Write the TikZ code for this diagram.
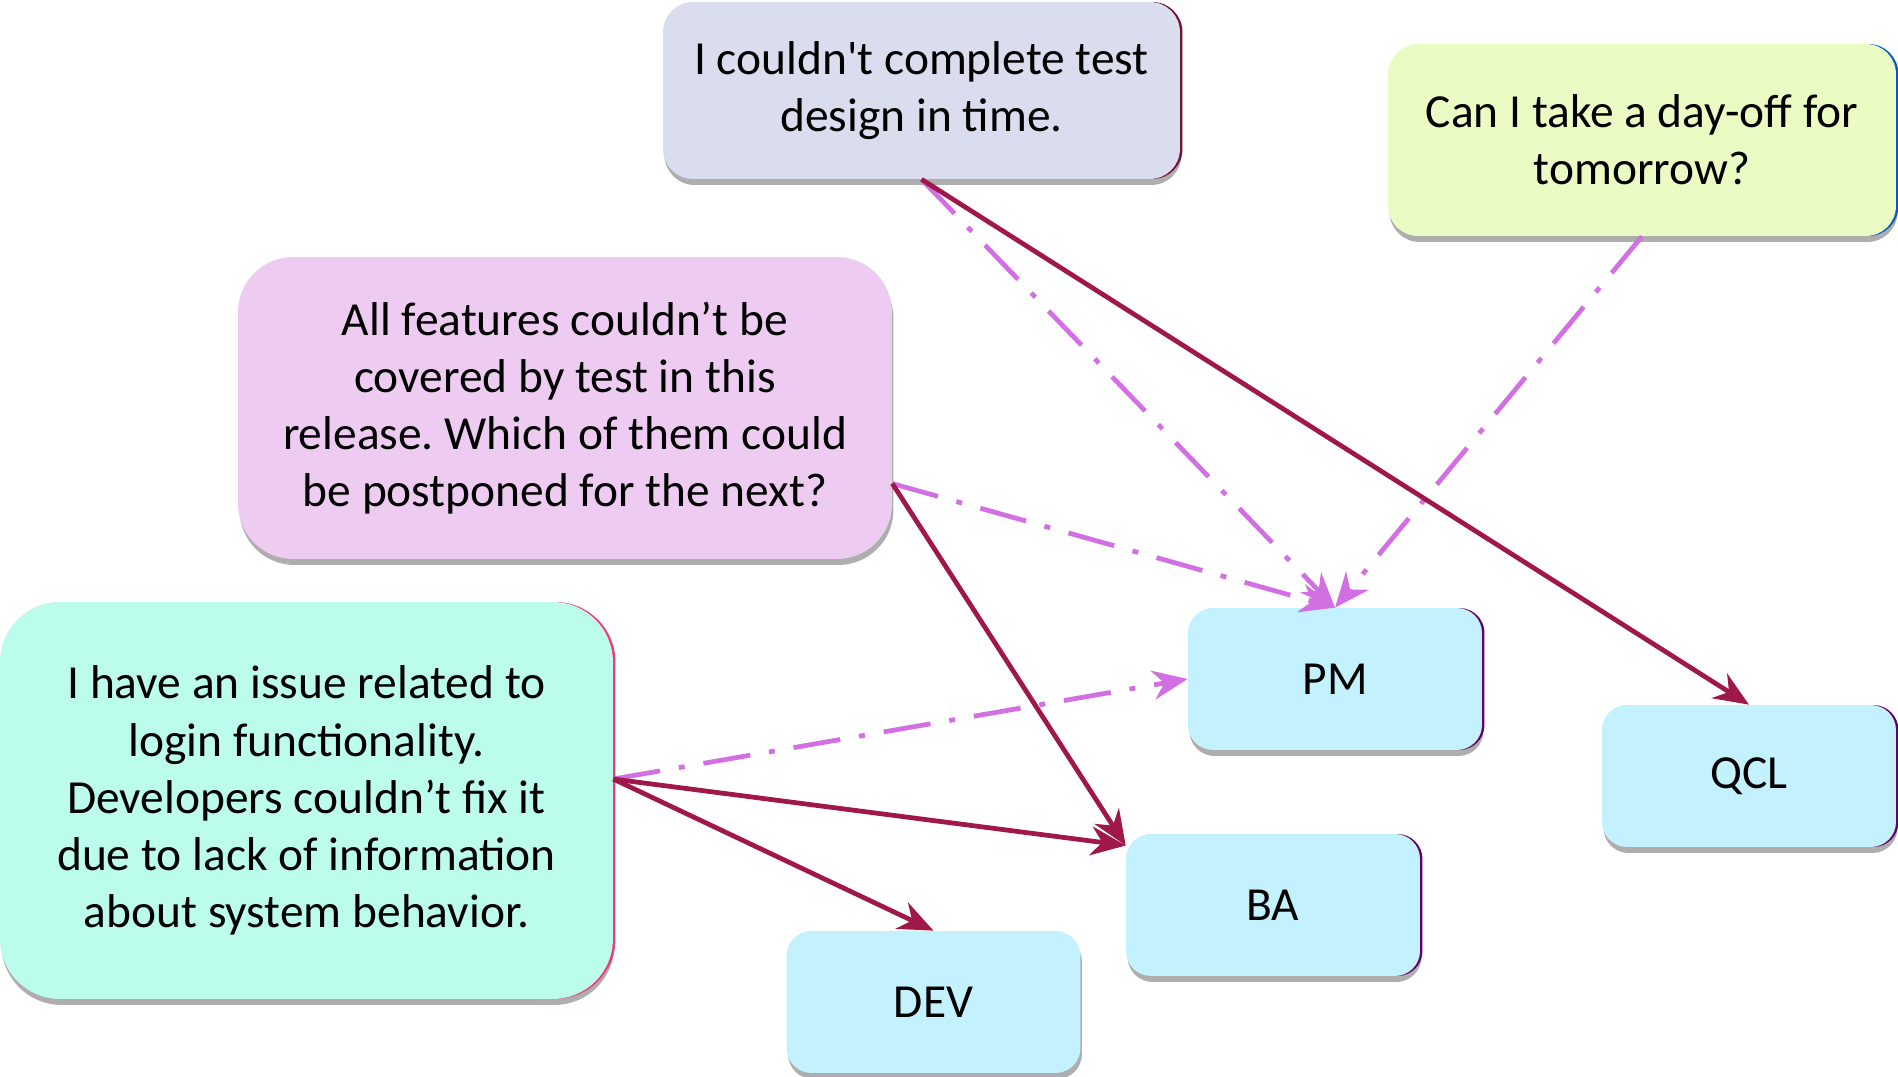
\documentclass[tikz,border=0pt]{standalone}
\usepackage{fontspec}
\setmainfont{Carlito}
\usepackage{xcolor}
\usepackage{tikz}
\usetikzlibrary{arrows.meta}
\usetikzlibrary{shadows}
\frenchspacing

\definecolor{lateblue}{HTML}{DADDEE}
\definecolor{dayoffgreen}{HTML}{EAFCC4}
\definecolor{scopepink}{HTML}{EECCF2}
\definecolor{issueteal}{HTML}{BBFCEC}
\definecolor{roleblue}{HTML}{C3F1FD}
\definecolor{asksviolet}{HTML}{D26FE2}
\definecolor{sendsred}{HTML}{A0174A}

\tikzset{
  bubble/.style={rounded corners=#1, align=center, inner sep=0pt,
    font=\fontsize{27}{32.5}\selectfont,
    drop shadow={shadow xshift=0.03cm, shadow yshift=-0.12cm, fill=black!70, opacity=0.45}},
  rim/.style={general shadow={shadow xshift=0.05cm, shadow yshift=0cm, fill=#1}},
  role/.style={bubble=0.5cm, fill=roleblue, minimum width=5.88cm, minimum height=2.84cm},
  sends/.style={-{Stealth[length=0.7cm,width=0.58cm]}, line width=0.095cm, draw=sendsred},
  asks/.style={-{Stealth[length=0.7cm,width=0.58cm]}, line width=0.095cm, draw=asksviolet,
    dash pattern=on 0.95cm off 0.38cm on 0.12cm off 0.38cm},
}

\begin{document}
\begin{tikzpicture}[x=0.02cm, y=-0.02cm]
    \useasboundingbox (0,0) rectangle (1898,1077);

    % Questions
    \node[bubble=0.6cm, fill=lateblue, rim=sendsred!70!black, minimum width=10.34cm, minimum height=3.54cm]
        (late) at (921.5,90.5) {I couldn\textquotesingle t complete test\\design in time.};
    \node[bubble=0.6cm, fill=dayoffgreen, rim=blue!55!cyan!80!black, minimum width=10.16cm, minimum height=3.84cm]
        (dayoff) at (1642,140) {Can I take a day-off for\\tomorrow?};
    \node[bubble=1.1cm, fill=scopepink, minimum width=13.08cm, minimum height=6.04cm]
        (scope) at (565,408) {All features couldn’t be\\covered by test in this\\release. Which of them could\\be postponed for the next?};
    \node[bubble=1.2cm, fill=issueteal, rim=magenta!60!red!80, minimum width=12.26cm, minimum height=7.94cm]
        (issue) at (306.5,800.5) {I have an issue related to\\login functionality.\\Developers couldn’t fix it\\due to lack of information\\about system behavior.};

    % Roles
    \node[role, rim=violet!80!black] (pm) at (1335,679) {PM};
    \node[role, rim=violet!80!black] (qcl) at (1749,776) {QCL};
    \node[role, rim=violet!80!black] (ba) at (1273,905) {BA};
    \node[role] (dev) at (933.5,1002) {DEV};

    % Dash-dot arrows to PM
    \draw[asks] (late.south) -- (pm.north);
    \draw[asks] (dayoff.south) -- (pm.north);
    \draw[asks] (scope.-13.75) -- (pm.north);
    \draw[asks] (issue.4.75) -- (pm.west);

    % Solid arrows
    \draw[sends] (late.south) -- (qcl.north);
    \draw[sends] (scope.-13.75) -- (ba.158);
    \draw[sends] (issue.4.75) -- (ba.158);
    \draw[sends] (issue.4.75) -- (dev.north);
\end{tikzpicture}
\end{document}
